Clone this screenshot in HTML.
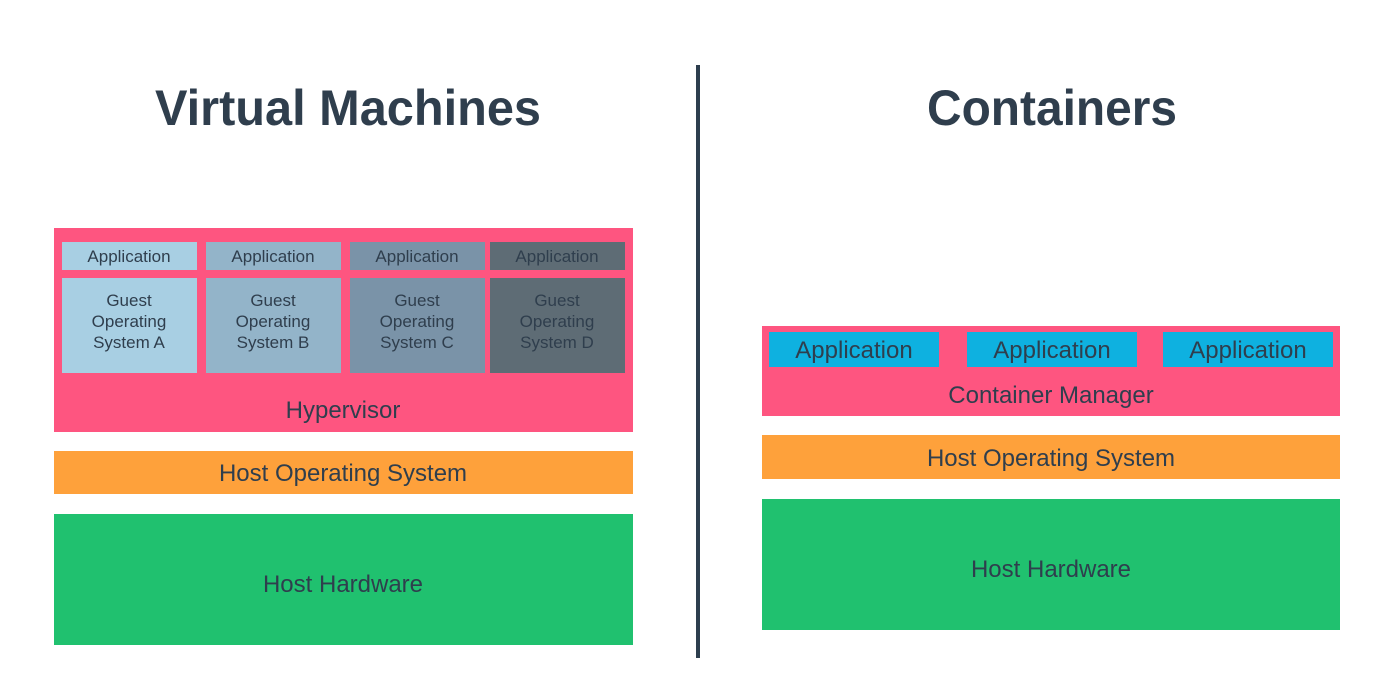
<!DOCTYPE html>
<html><head><meta charset="utf-8"><style>
html,body{margin:0;padding:0;background:#fff;width:1378px;height:674px;overflow:hidden}
svg text{font-family:"Liberation Sans",sans-serif;fill:#2f3e4d}
</style></head><body>
<svg width="1378" height="674" viewBox="0 0 1378 674" xmlns="http://www.w3.org/2000/svg">
<rect width="1378" height="674" fill="#fff"/>
<text x="155" y="125" font-size="50" font-weight="bold" textLength="386" lengthAdjust="spacingAndGlyphs">Virtual Machines</text>
<text x="927" y="125" font-size="50" font-weight="bold" textLength="250" lengthAdjust="spacingAndGlyphs">Containers</text>
<rect x="696" y="65" width="4" height="593" fill="#2d3e4e"/>

<!-- Left -->
<rect x="54" y="228" width="579" height="204" fill="#fe5580"/>
<rect x="62" y="242" width="135" height="28" fill="#a8cfe3"/>
<rect x="206" y="242" width="135" height="28" fill="#93b4c9"/>
<rect x="350" y="242" width="135" height="28" fill="#7a93a8"/>
<rect x="490" y="242" width="135" height="28" fill="#5e6c75"/>
<rect x="62" y="278" width="135" height="95" fill="#a8cfe3"/>
<rect x="206" y="278" width="135" height="95" fill="#93b4c9"/>
<rect x="350" y="278" width="135" height="95" fill="#7a93a8"/>
<rect x="490" y="278" width="135" height="95" fill="#5e6c75"/>
<g font-size="17" text-anchor="middle">
<text x="129" y="262">Application</text>
<text x="273" y="262">Application</text>
<text x="417" y="262">Application</text>
<text x="557" y="262">Application</text>
<text x="129" y="306">Guest</text><text x="129" y="327">Operating</text><text x="129" y="348">System A</text>
<text x="273" y="306">Guest</text><text x="273" y="327">Operating</text><text x="273" y="348">System B</text>
<text x="417" y="306">Guest</text><text x="417" y="327">Operating</text><text x="417" y="348">System C</text>
<text x="557" y="306">Guest</text><text x="557" y="327">Operating</text><text x="557" y="348">System D</text>
</g>
<text x="343" y="418" font-size="24" text-anchor="middle">Hypervisor</text>
<rect x="54" y="451" width="579" height="43" fill="#fea13b"/>
<text x="343" y="481" font-size="24" text-anchor="middle">Host Operating System</text>
<rect x="54" y="514" width="579" height="131" fill="#20c16f"/>
<text x="343" y="592" font-size="24" text-anchor="middle">Host Hardware</text>

<!-- Right -->
<rect x="762" y="326" width="578" height="90" fill="#fe5580"/>
<rect x="769" y="332" width="170" height="35" fill="#0eb1e0"/>
<rect x="967" y="332" width="170" height="35" fill="#0eb1e0"/>
<rect x="1163" y="332" width="170" height="35" fill="#0eb1e0"/>
<g font-size="24" text-anchor="middle">
<text x="854" y="358">Application</text>
<text x="1052" y="358">Application</text>
<text x="1248" y="358">Application</text>
<text x="1051" y="403">Container Manager</text>
</g>
<rect x="762" y="435" width="578" height="44" fill="#fea13b"/>
<text x="1051" y="466" font-size="24" text-anchor="middle">Host Operating System</text>
<rect x="762" y="499" width="578" height="131" fill="#20c16f"/>
<text x="1051" y="577" font-size="24" text-anchor="middle">Host Hardware</text>
</svg>
</body></html>
